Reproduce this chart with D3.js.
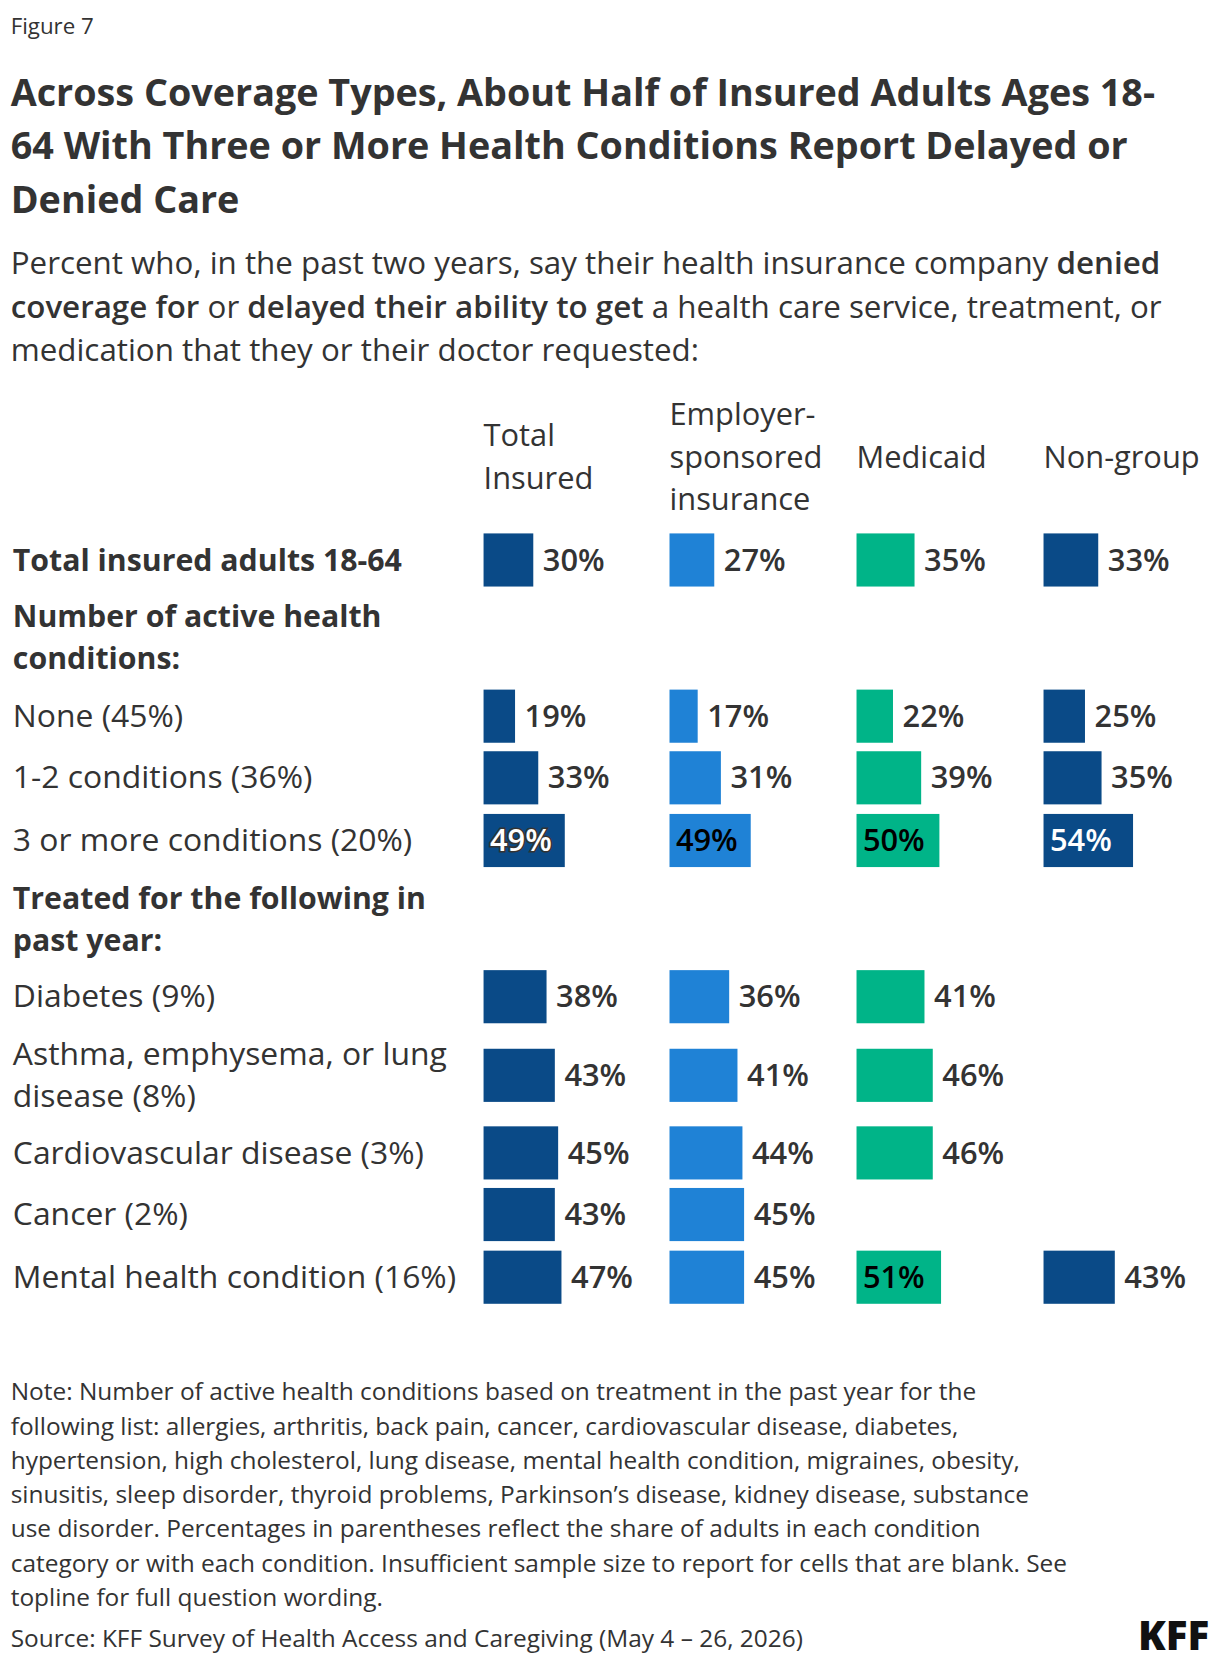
<!DOCTYPE html>
<html><head><meta charset="utf-8">
<script src="https://cdn.jsdelivr.net/npm/d3@7.9.0/dist/d3.min.js"></script>
<style>
body{margin:0;background:#fff;}
text{font-family:"Open Sans",Lato,sans-serif;fill:#333;}
</style></head>
<body><svg id="chart" width="1220" height="1664" viewBox="0 0 1148 1566"></svg>
<script>
const columns = ["Total Insured", "Employer-sponsored insurance", "Medicaid", "Non-group"];
const rowLabels = [
  "Total insured adults 18-64",
  "None (45%)", "1-2 conditions (36%)", "3 or more conditions (20%)",
  "Diabetes (9%)", "Asthma, emphysema, or lung disease (8%)",
  "Cardiovascular disease (3%)", "Cancer (2%)", "Mental health condition (16%)"
];
const totalInsured = [30, 19, 33, 49, 38, 43, 45, 43, 47];
const employer     = [27, 17, 31, 49, 36, 41, 44, 45, 45];
const medicaid     = [35, 22, 39, 50, 41, 46, 46, null, 51];
const nonGroup     = [33, 25, 35, 54, null, null, null, null, 43];
const series = [totalInsured, employer, medicaid, nonGroup];
const colors = ["#0a4a87", "#1f82d6", "#00b488", "#0a4a87"];

const svg = d3.select('#chart');

svg.append('text').attr('x', 10).attr('y', 32).attr('font-size', 21).text('Figure 7');

const title = ["Across Coverage Types, About Half of Insured Adults Ages 18-",
  "64 With Three or More Health Conditions Report Delayed or", "Denied Care"];
title.forEach((t, i) => svg.append('text').attr('x', 10).attr('y', 100 + i * 50)
  .attr('font-size', 35.5).attr('font-weight', 700).text(t));

const sub = svg.append('text').attr('font-size', 29.5);
const subLines = [
  [["Percent who, in the past two years, say their health insurance company ", 400], ["denied", 600]],
  [["coverage for", 600], [" or ", 400], ["delayed their ability to get", 600], [" a health care service, treatment, or", 400]],
  [["medication that they or their doctor requested:", 400]]
];
subLines.forEach((line, i) => {
  line.forEach(([t, w], j) => {
    const ts = sub.append('tspan').attr('font-weight', w).text(t);
    if (j === 0) ts.attr('x', 10).attr('y', 258 + i * 41);
  });
});

// column headers
const colX = [455, 630, 806, 982];
const headers = [["Total", "Insured"], ["Employer-", "sponsored", "insurance"], ["Medicaid"], ["Non-group"]];
headers.forEach((h, c) => {
  const y0 = 450 - (h.length - 1) * 20;
  h.forEach((t, k) => svg.append('text').attr('x', colX[c]).attr('y', y0 - 10 + k * 40)
    .attr('font-size', 29).text(t));
});

// row layout
const rowY = [527, 674, 732, 791, 938, 1012, 1085, 1143, 1202];
const x = d3.scaleLinear().domain([0, 100]).range([0, 156]);
const barH = 50;

// section headers
const sections = [[["Number of active health", "conditions:"], 590], [["Treated for the following in", "past year:"], 855]];
sections.forEach(([lines, y]) => lines.forEach((t, k) =>
  svg.append('text').attr('x', 12).attr('y', y + k * 40).attr('font-size', 28.5).attr('font-weight', 700).text(t)));

rowLabels.forEach((lab, i) => {
  const t = svg.append('text').attr('x', 12)
    .attr('font-size', i === 0 ? 28.5 : 30)
    .attr('font-weight', i === 0 ? 700 : 400);
  if (lab.startsWith("Asthma")) {
    t.append('tspan').attr('x', 12).attr('y', rowY[i] - 10).text("Asthma, emphysema, or lung");
    t.append('tspan').attr('x', 12).attr('y', rowY[i] + 30).text("disease (8%)");
  } else {
    t.attr('y', rowY[i] + 10).text(lab);
  }
});

const insideRows = { "3-0": ["#fff", true], "3-1": ["#000", false], "3-2": ["#000", false], "3-3": ["#fff", false], "8-2": ["#000", false] };

series.forEach((vals, c) => {
  vals.forEach((v, i) => {
    if (v == null) return;
    svg.append('rect').attr('x', colX[c]).attr('y', rowY[i] - barH / 2)
      .attr('width', x(v)).attr('height', barH).attr('fill', colors[c]);
    const key = `${i}-${c}`;
    const lbl = svg.append('text').attr('y', rowY[i] + 10).attr('font-size', 29)
      .attr('font-weight', 600).text(v + '%');
    if (insideRows[key]) {
      const [fill, stroke] = insideRows[key];
      lbl.attr('x', colX[c] + 6).style('fill', fill);
      if (stroke) lbl.attr('stroke', '#333').attr('stroke-width', 3).attr('paint-order', 'stroke');
    } else {
      lbl.attr('x', colX[c] + x(v) + 9);
    }
  });
});

const notes = [
  "Note: Number of active health conditions based on treatment in the past year for the",
  "following list: allergies, arthritis, back pain, cancer, cardiovascular disease, diabetes,",
  "hypertension, high cholesterol, lung disease, mental health condition, migraines, obesity,",
  "sinusitis, sleep disorder, thyroid problems, Parkinson’s disease, kidney disease, substance",
  "use disorder. Percentages in parentheses reflect the share of adults in each condition",
  "category or with each condition. Insufficient sample size to report for cells that are blank. See",
  "topline for full question wording."
];
notes.forEach((t, i) => svg.append('text').attr('x', 10).attr('y', 1318 + i * 32.2)
  .attr('font-size', 23).text(t));
svg.append('text').attr('x', 10).attr('y', 1550).attr('font-size', 23)
  .text('Source: KFF Survey of Health Access and Caregiving (May 4 – 26, 2026)');
svg.append('text').attr('x', 1138).attr('y', 1553).attr('text-anchor', 'end')
  .attr('font-size', 38).attr('font-weight', 800).style('fill', '#111').text('KFF');
</script></body></html>
